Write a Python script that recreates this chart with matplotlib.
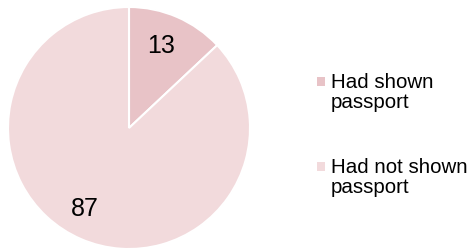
import matplotlib.pyplot as plt
from matplotlib.patches import Rectangle

# values
labels = ['Had shown\npassport', 'Had not shown\npassport']
values = [13, 87]
colors = ['#E8C3C7', '#F2DADC']

plt.rcParams['font.family'] = ['Liberation Sans', 'DejaVu Sans']

W, H = 475, 251
fig = plt.figure(figsize=(W / 100, H / 100), dpi=100)

# pie axes: centre ~ (129, 129), radius ~ 121 px
ax = fig.add_axes([8 / W, 1 / H, 242 / W, 242 / H])
wedges, _ = ax.pie(values, colors=colors, startangle=90, counterclock=False,
                   wedgeprops=dict(edgecolor='white', linewidth=1.5))
ax.set_xlim(-1, 1)
ax.set_ylim(-1, 1)
ax.set_aspect('equal')

# data labels, placed like the original (PowerPoint-style)
label_pos = [(0.265, 0.69), (-0.364, -0.66)]
for v, (x, y) in zip(values, label_pos):
    ax.text(x, y, str(v), ha='center', va='center', fontsize=18, color='black')

# legend drawn by hand so the marker sits on the first line
first_baseline = [88, 173]  # px from top
line_gap = 20
for lab, col, yb in zip(labels, colors, first_baseline):
    fig.patches.append(Rectangle((317 / W, 1 - (yb - 1) / H), 8 / W, 9 / H,
                                 transform=fig.transFigure, facecolor=col,
                                 edgecolor='none'))
    for i, line in enumerate(lab.split('\n')):
        fig.text(331 / W, 1 - (yb + i * line_gap) / H, line, ha='left',
                 va='baseline', fontsize=14.8, color='black')

fig.savefig('out.png', dpi=100)
